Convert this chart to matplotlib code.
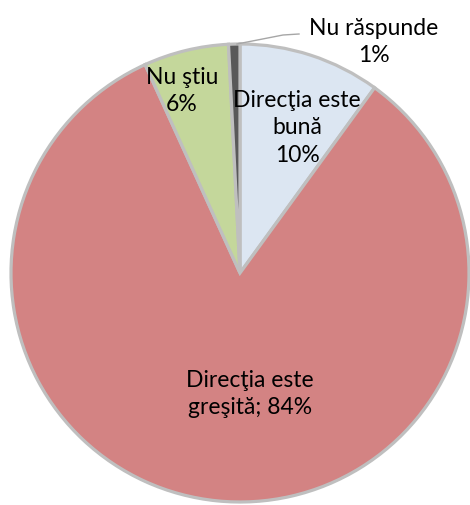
import matplotlib
matplotlib.use("Agg")
import matplotlib.pyplot as plt

categories = ["Direcţia este bună", "Direcţia este greşită", "Nu ştiu", "Nu răspunde"]
values = [10.0, 83.2, 6.0, 0.8]
labels = ["Direcţia este\nbună\n10%", "Direcţia este\ngreşită; 84%", "Nu ştiu\n6%", "Nu răspunde\n1%"]
colors = ["#dce6f2", "#d38383", "#c4d79b", "#595959"]

W, H = 470, 506
fig = plt.figure(figsize=(W / 100, H / 100), dpi=100)
ax = fig.add_axes([0, 0, 1, 1])
ax.set_xlim(0, W)
ax.set_ylim(0, H)
ax.set_aspect("equal")
ax.axis("off")

cx, cy, r = 240, H - 274, 229
ax.pie(values, colors=colors, startangle=90, counterclock=False,
       center=(cx, cy), radius=r, frame=True,
       wedgeprops=dict(edgecolor="#bfbfbf", linewidth=2.3))
ax.set_xlim(0, W)
ax.set_ylim(0, H)
ax.axis("off")

fam = ["Lato", "DejaVu Sans"]
fs = 16.5
ls = 1.38
ax.text(297, H - 128, labels[0], ha="center", va="center", fontsize=fs, family=fam, linespacing=ls)
ax.text(250, H - 394, labels[1], ha="center", va="center", fontsize=fs, family=fam, linespacing=ls)
ax.text(182, H - 91, labels[2], ha="center", va="center", fontsize=fs, family=fam, linespacing=ls)
ax.text(374, H - 42, labels[3], ha="center", va="center", fontsize=fs, family=fam, linespacing=ls)
ax.plot([237, 283, 299], [H - 45, H - 36, H - 35], color="#a6a6a6", lw=1)

fig.savefig("out.png", dpi=100)
